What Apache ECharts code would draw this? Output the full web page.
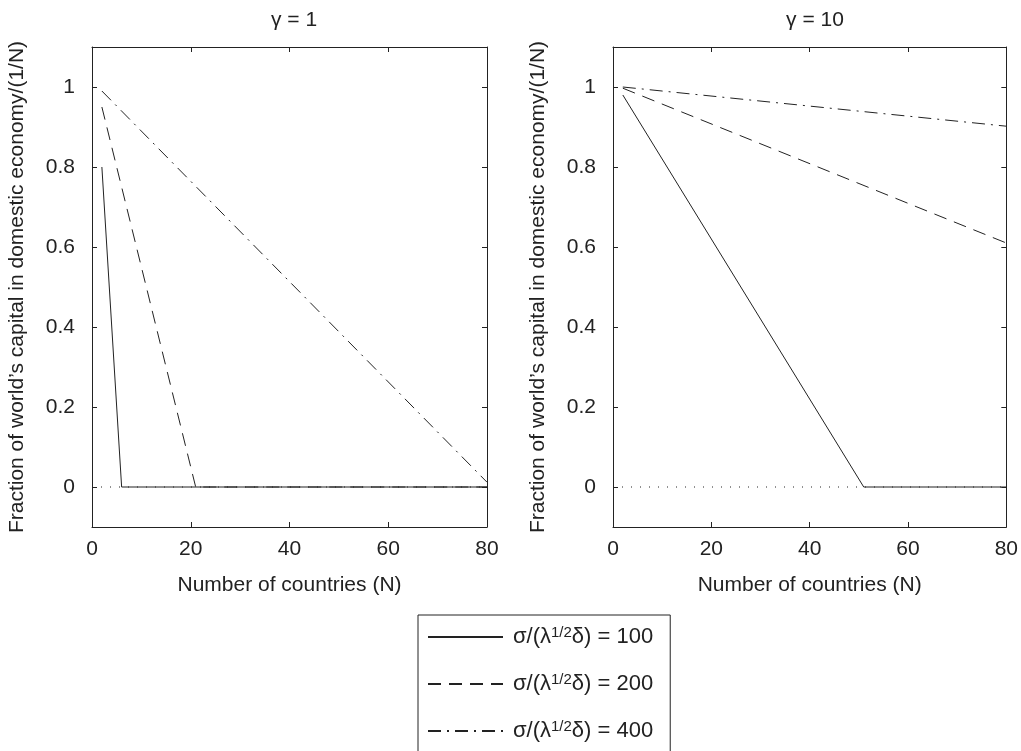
<!DOCTYPE html>
<html>
<head>
<meta charset="utf-8">
<script src="https://cdn.jsdelivr.net/npm/echarts@6/dist/echarts.min.js"></script>
<style>html,body{margin:0;padding:0;background:#fff;}#c{width:1021px;height:751px;}</style>
</head>
<body>
<div id="c"></div>
<script>
// Panel titles
var panelTitles = ['\u03b3 = 1', '\u03b3 = 10'];
// Legend categories (sigma/(lambda^1/2 delta))
var seriesNames = ['100', '200', '400'];
// Tick values
var xTicks = [0, 20, 40, 60, 80];
var yTicks = [0, 0.2, 0.4, 0.6, 0.8, 1];
// gamma = 1 panel: [N, value]
var g1_s100 = [[2, 0.80], [6, 0], [80, 0]];
var g1_s200 = [[2, 0.95], [21, 0], [80, 0]];
var g1_s400 = [[2, 0.99], [80, 0.012]];
// gamma = 10 panel
var g10_s100 = [[2, 0.98], [51, 0], [80, 0]];
var g10_s200 = [[2, 0.997], [80, 0.61]];
var g10_s400 = [[2, 1.0], [80, 0.902]];
// dotted zero reference
var zeroLine = [[0, 0], [80, 0]];

var FONT = '"Liberation Sans", Arial, sans-serif';
var INK = '#222';
var FS = 21;
var dashTypes = ['solid', [13, 8], [13, 6, 2, 6]];
var yName = 'Fraction of world\u2019s capital in domestic economy/(1/N)';

var grids = [
  {left: 92, top: 47, width: 395, height: 480},
  {left: 613, top: 47, width: 395, height: 480}
];

var xAxes = [], yAxes = [];
grids.forEach(function (g, i) {
  var base = {
    gridIndex: i, type: 'value', min: 0, max: 80, interval: 20,
    axisLine: {onZero: false, lineStyle: {color: INK, width: 1}},
    axisTick: {inside: true, length: 5, lineStyle: {color: INK}},
    splitLine: {show: false}
  };
  xAxes.push(Object.assign({}, base, {
    position: 'bottom',
    axisLabel: {color: INK, fontSize: FS, fontFamily: FONT, margin: 12},
    name: 'Number of countries (N)', nameLocation: 'middle', nameGap: 48,
    nameTextStyle: {color: INK, fontSize: FS, fontFamily: FONT}
  }));
  xAxes.push(Object.assign({}, base, {position: 'top', axisLabel: {show: false}}));
  var ybase = {
    gridIndex: i, type: 'value', min: -0.1, max: 1.1,
    axisLine: {onZero: false, lineStyle: {color: INK, width: 1}},
    axisTick: {inside: true, length: 5, lineStyle: {color: INK}, customValues: yTicks},
    splitLine: {show: false}
  };
  yAxes.push(Object.assign({}, ybase, {
    position: 'left',
    axisLabel: {color: INK, fontSize: FS, fontFamily: FONT, margin: 17, customValues: yTicks,
      formatter: function (v) { return String(Math.round(v * 10) / 10); }},
    name: yName, nameLocation: 'middle', nameGap: 64, nameRotate: 90,
    nameTextStyle: {color: INK, fontSize: FS, fontFamily: FONT}
  }));
  yAxes.push(Object.assign({}, ybase, {position: 'right', axisLabel: {show: false}}));
});

var panelData = [[g1_s100, g1_s200, g1_s400], [g10_s100, g10_s200, g10_s400]];
var series = [];
panelData.forEach(function (arr, p) {
  series.push({
    type: 'line', xAxisIndex: p * 2, yAxisIndex: p * 2, data: zeroLine,
    symbol: 'none', silent: true, z: 1,
    lineStyle: {color: INK, width: 1, type: [1, 8]}
  });
  arr.forEach(function (d, k) {
    series.push({
      name: seriesNames[k], type: 'line', xAxisIndex: p * 2, yAxisIndex: p * 2,
      data: d, symbol: 'none', z: 3 - k + 2,
      lineStyle: {color: INK, width: 1, type: dashTypes[k]},
      itemStyle: {color: INK}
    });
  });
});

var chart = echarts.init(document.getElementById('c'), null, {renderer: 'canvas'});
chart.setOption({
  backgroundColor: '#fff',
  animation: false,
  title: [
    {text: panelTitles[0], left: 289, textAlign: 'center', top: 5,
     textStyle: {color: INK, fontSize: 21, fontWeight: 'normal', fontFamily: FONT}},
    {text: panelTitles[1], left: 810, textAlign: 'center', top: 5,
     textStyle: {color: INK, fontSize: 21, fontWeight: 'normal', fontFamily: FONT}}
  ],
  grid: grids,
  xAxis: xAxes,
  yAxis: yAxes,
  legend: {
    data: seriesNames, orient: 'vertical', left: 418, top: 615,
    width: 252, height: 200,
    borderColor: INK, borderWidth: 1, padding: [10, 17, 30, 9],
    itemWidth: 75, itemHeight: 14, itemGap: 23,
    selectedMode: false,
    itemStyle: {opacity: 0},
    formatter: function (name) { return '\u03c3/(\u03bb{sup|1/2}\u03b4) = ' + name; },
    textStyle: {
      color: INK, fontSize: 22, fontFamily: FONT, lineHeight: 24, padding: [0, 0, 0, 5],
      rich: {sup: {fontSize: 15, fontFamily: FONT, color: INK, padding: [0, 0, 9, 0]}}
    }
  },
  series: series
});
</script>
</body>
</html>
